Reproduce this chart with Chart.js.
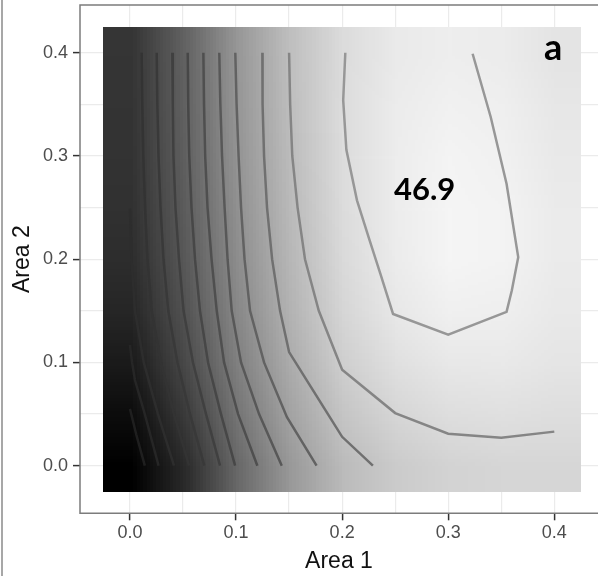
<!DOCTYPE html>
<html lang="en">
  <head>
    <meta charset="UTF-8" />
    <title>Area 1 / Area 2</title>
    <script src="https://cdn.jsdelivr.net/npm/chart.js"></script>
    <style>
      html, body { margin: 0; padding: 0; background: #fff; overflow: hidden; }
      #wrap { position: relative; width: 598px; height: 576px; }
      #edge { position: absolute; left: 1px; top: 0; width: 2px; height: 576px; background: #a7a7a7; }
    </style>
  </head>
  <body>
    <div id="wrap">
      <canvas id="chart" width="598" height="576"></canvas>
      <div id="edge"></div>
    </div>
    <script>
      // surface grid (centres of the raster cells)
      const gridX = [0, 0.05, 0.1, 0.15, 0.2, 0.25, 0.3, 0.35, 0.4];
      const gridY = [0, 0.05, 0.1, 0.15, 0.2, 0.25, 0.3, 0.35, 0.4];
      // grey level of each cell, one row per gridY value (bottom row first)
      const shade = [
        [0, 42, 104, 153, 187, 203, 211, 214, 214],
        [12, 58, 117, 163, 197, 214, 222, 224, 222],
        [26, 72, 128, 172, 207, 224, 232, 233, 229],
        [38, 82, 136, 179, 214, 232, 240, 239, 233],
        [45, 88, 141, 183, 218, 236, 245, 243, 235],
        [49, 92, 145, 186, 220, 237, 245, 243, 235],
        [51, 95, 148, 188, 221, 237, 244, 241, 233],
        [52, 97, 150, 190, 221, 236, 241, 239, 231],
        [53, 98, 151, 191, 220, 234, 238, 236, 228],
      ];

      // contour lines, [area1, area2] points, lowest level first
      const c1 = [[0, 0.055], [0.006, 0.03], [0.014, 0]];
      const c2 = [[0, 0.117], [0.002, 0.1], [0.0047, 0.083], [0.014, 0.05], [0.027, 0]];
      const c3 = [[0, 0.249], [0.0014, 0.2], [0.0047, 0.15], [0.013, 0.1], [0.0264, 0.05], [0.0415, 0]];
      const c4 = [[0.011, 0.4], [0.0116, 0.35], [0.0126, 0.3], [0.0142, 0.25], [0.0165, 0.2], [0.0205, 0.15], [0.0292, 0.1], [0.0415, 0.05], [0.0557, 0]];
      const c5 = [[0.0252, 0.4], [0.0258, 0.35], [0.0269, 0.3], [0.0288, 0.25], [0.0316, 0.2], [0.0361, 0.15], [0.0448, 0.1], [0.0566, 0.05], [0.0701, 0]];
      const c6 = [[0.0399, 0.4], [0.0404, 0.35], [0.041, 0.3], [0.0429, 0.25], [0.0462, 0.2], [0.0505, 0.15], [0.0594, 0.1], [0.0717, 0.05], [0.0849, 0]];
      const c7 = [[0.0544, 0.4], [0.0549, 0.35], [0.0559, 0.3], [0.058, 0.25], [0.0613, 0.2], [0.066, 0.15], [0.0736, 0.1], [0.0858, 0.05], [0.0991, 0]];
      const c8 = [[0.0692, 0.4], [0.0698, 0.35], [0.0709, 0.3], [0.0731, 0.25], [0.0769, 0.2], [0.0818, 0.15], [0.0887, 0.1], [0.1019, 0.05], [0.1201, 0]];
      const c9 = [[0.0842, 0.4], [0.0852, 0.35], [0.0868, 0.3], [0.0892, 0.25], [0.092, 0.2], [0.0959, 0.15], [0.1047, 0.1], [0.1217, 0.05], [0.1431, 0]];
      const c10 = [[0.0993, 0.4], [0.1005, 0.35], [0.1024, 0.3], [0.1047, 0.25], [0.108, 0.2], [0.1132, 0.15], [0.1264, 0.1], [0.148, 0.047], [0.1759, 0]];
      const c11 = [[0.1248, 0.4], [0.125, 0.35], [0.1264, 0.3], [0.1292, 0.25], [0.134, 0.2], [0.1415, 0.15], [0.15, 0.11], [0.1866, 0.05], [0.2, 0.028], [0.229, 0]];
      const c12 = [[0.15, 0.4], [0.151, 0.35], [0.153, 0.3], [0.158, 0.25], [0.165, 0.2], [0.178, 0.15], [0.2, 0.093], [0.25, 0.051], [0.3, 0.031], [0.35, 0.027], [0.4, 0.033]];
      const c13 = [[0.203, 0.4], [0.201, 0.354], [0.204, 0.306], [0.214, 0.257], [0.226, 0.218], [0.236, 0.186], [0.248, 0.147], [0.3, 0.127], [0.355, 0.149], [0.36, 0.17], [0.366, 0.202], [0.355, 0.273], [0.34, 0.338], [0.323, 0.399]];
      const contours = [c1, c2, c3, c4, c5, c6, c7, c8, c9, c10, c11, c12, c13];

      const tickValues = [0, 0.05, 0.1, 0.15, 0.2, 0.25, 0.3, 0.35, 0.4];

      // text put on the panel
      const noteText = ["46.9", "a"];
      const noteX = [0.2778, 0.3988];
      const noteY = [0.2573, 0.393];

      const lineColors = ["#1f1f1f", "#262626", "#2d2d2d", "#333333", "#393939", "#404040",
        "#474747", "#4f4f4f", "#585858", "#626262", "#707070", "#858585", "#979797"];

      const isMajor = (v) => Math.abs(v * 10 - Math.round(v * 10)) < 1e-6;

      const heatPlugin = {
        id: "heat",
        beforeDatasetsDraw(chart) {
          const { ctx, scales: { x, y } } = chart;
          const n = gridX.length, m = gridY.length;
          const off = document.createElement("canvas");
          off.width = n;
          off.height = m;
          const octx = off.getContext("2d");
          const img = octx.createImageData(n, m);
          for (let j = 0; j < m; j++) {
            for (let i = 0; i < n; i++) {
              const k = ((m - 1 - j) * n + i) * 4;
              const g = shade[j][i];
              img.data[k] = g;
              img.data[k + 1] = g;
              img.data[k + 2] = g;
              img.data[k + 3] = 255;
            }
          }
          octx.putImageData(img, 0, 0);
          const hx = (gridX[1] - gridX[0]) / 2;
          const hy = (gridY[1] - gridY[0]) / 2;
          const x0 = x.getPixelForValue(gridX[0] - hx);
          const x1 = x.getPixelForValue(gridX[n - 1] + hx);
          const y0 = y.getPixelForValue(gridY[m - 1] + hy);
          const y1 = y.getPixelForValue(gridY[0] - hy);
          ctx.save();
          ctx.imageSmoothingEnabled = true;
          ctx.imageSmoothingQuality = "low";
          ctx.drawImage(off, x0, y0, x1 - x0, y1 - y0);
          ctx.restore();
        },
        afterDatasetsDraw(chart) {
          const { ctx, chartArea: a, scales: { x, y } } = chart;
          ctx.save();
          // panel border
          ctx.strokeStyle = "#7c7c7c";
          ctx.lineWidth = 1.5;
          ctx.beginPath();
          ctx.moveTo(a.right + 2, a.top);
          ctx.lineTo(a.left, a.top);
          ctx.lineTo(a.left, a.bottom);
          ctx.lineTo(a.right + 2, a.bottom);
          ctx.stroke();
          // labels
          ctx.fillStyle = "#000";
          ctx.textAlign = "center";
          ctx.textBaseline = "alphabetic";
          ctx.font = "bold 31px Lato";
          ctx.fillText(noteText[0], x.getPixelForValue(noteX[0]), y.getPixelForValue(noteY[0]));
          ctx.font = "bold 36px Lato";
          ctx.fillText(noteText[1], x.getPixelForValue(noteX[1]), y.getPixelForValue(noteY[1]));
          ctx.restore();
        },
      };

      const tickFont = { family: "Liberation Sans", size: 18 };
      const titleFont = { family: "Liberation Sans", size: 23 };

      new Chart(document.getElementById("chart"), {
        type: "scatter",
        data: {
          datasets: contours.map((pts, i) => ({
            data: pts.map(([a1, a2]) => ({ x: a1, y: a2 })),
            showLine: true,
            borderColor: lineColors[i],
            borderWidth: 2.5,
            pointRadius: 0,
            tension: 0,
          })),
        },
        options: {
          responsive: false,
          animation: false,
          events: [],
          layout: { padding: { left: 2, top: 5, right: 0, bottom: 0 } },
          plugins: { legend: { display: false }, tooltip: { enabled: false } },
          scales: {
            x: {
              type: "linear",
              min: -0.0471,
              max: 0.4412,
              afterBuildTicks: (s) => { s.ticks = tickValues.map((v) => ({ value: v })); },
              afterFit: (s) => {
                s.height = 62.7;
                s.paddingLeft = 0;
                s.paddingRight = 0;
              },
              ticks: {
                autoSkip: false,
                maxRotation: 0,
                padding: 2,
                color: "#4d4d4d",
                font: tickFont,
                callback: (v) => (isMajor(v) ? v.toFixed(1) : ""),
              },
              grid: {
                color: "#ebebeb",
                lineWidth: 1.2,
                tickLength: 7,
                tickWidth: 1.5,
                tickColor: (c) => (c.tick && isMajor(c.tick.value) ? "#333" : "rgba(0,0,0,0)"),
              },
              border: { display: false },
              title: { display: true, text: "Area 1", color: "#111", font: titleFont, padding: { top: 0, bottom: 1 } },
            },
            y: {
              type: "linear",
              min: -0.0461,
              max: 0.4462,
              afterBuildTicks: (s) => { s.ticks = tickValues.map((v) => ({ value: v })); },
              afterFit: (s) => {
                s.width = 78;
                s.paddingTop = 0;
                s.paddingBottom = 0;
              },
              ticks: {
                autoSkip: false,
                padding: 5,
                color: "#4d4d4d",
                font: tickFont,
                callback: (v) => (isMajor(v) ? v.toFixed(1) : ""),
              },
              grid: {
                color: "#ebebeb",
                lineWidth: 1.2,
                tickLength: 7,
                tickWidth: 1.5,
                tickColor: (c) => (c.tick && isMajor(c.tick.value) ? "#333" : "rgba(0,0,0,0)"),
              },
              border: { display: false },
              title: { display: true, text: "Area 2", color: "#111", font: titleFont, padding: { top: 7, bottom: 0 } },
            },
          },
        },
        plugins: [heatPlugin],
      });
    </script>
  </body>
</html>
